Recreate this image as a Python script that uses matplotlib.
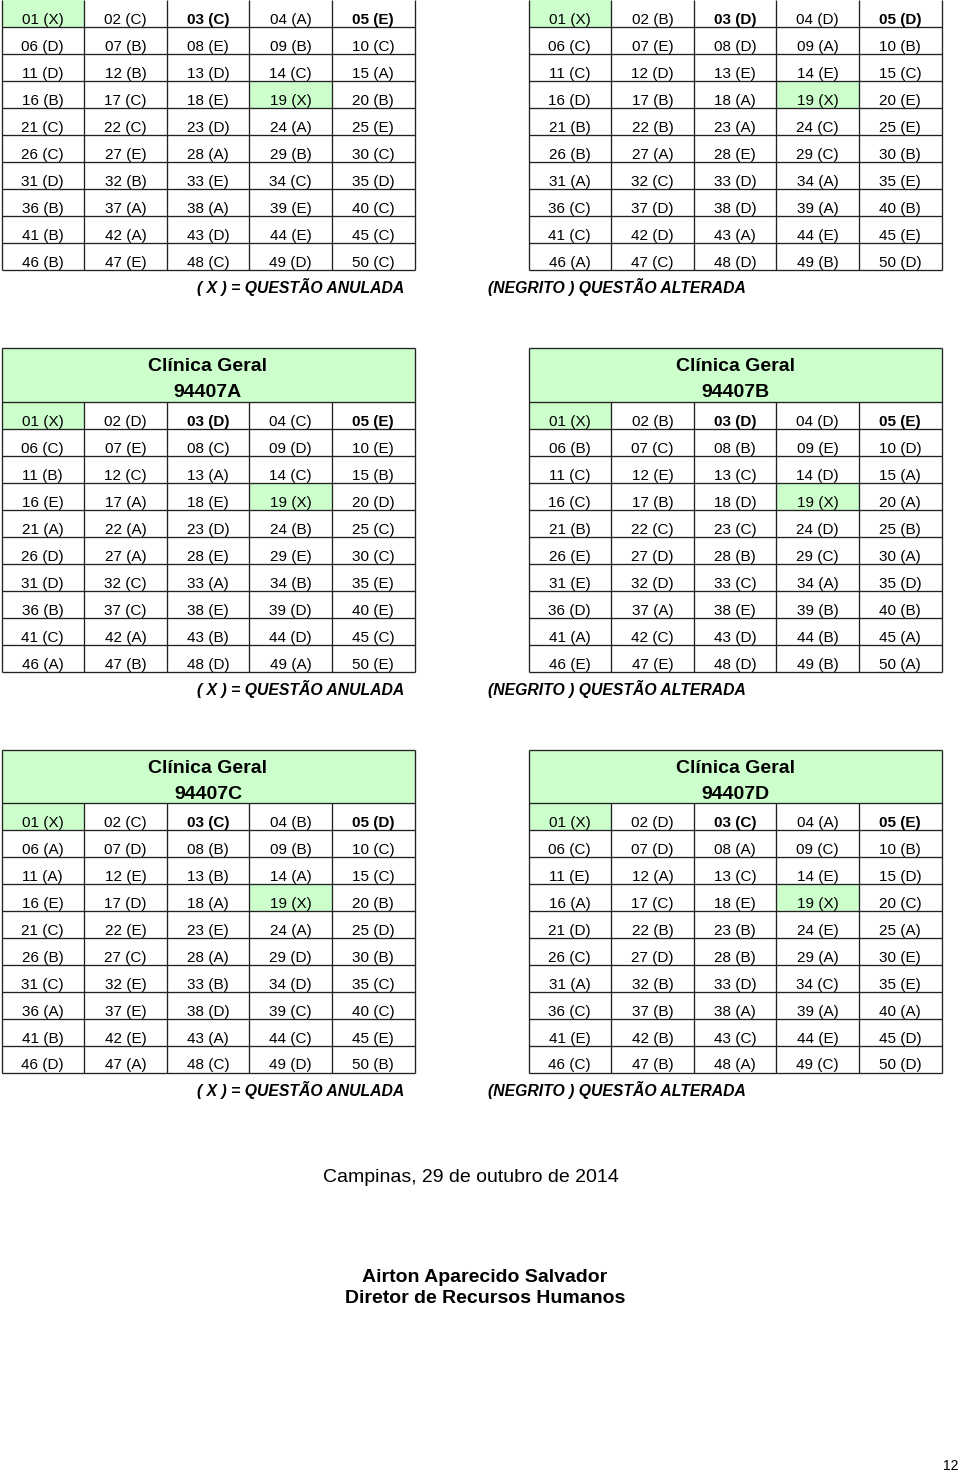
import matplotlib.pyplot as plt
from matplotlib.patches import Rectangle

plt.rcParams['font.family'] = ['Liberation Sans', 'DejaVu Sans']

# gabaritos (50 questoes cada), lidos linha a linha
key_top_left = list("XCCAE" "DBEBC" "DBDCA" "BCEXB" "CCDAE" "CEABC" "DBECD" "BAAEC" "BADEC" "BECDC")
key_top_right = list("XBDDD" "CEDAB" "CDEEC" "DBAXE" "BBACE" "BAECB" "ACDAE" "CDDAB" "CDAEE" "ACDBD")
key_94407A = list("XDDCE" "CECDE" "BCACB" "EAEXD" "AADBC" "DAEEC" "DCABE" "BCEDE" "CABDC" "ABDAE")
key_94407B = list("XBDDE" "BCBED" "CECDA" "CBDXA" "BCCDB" "EDBCA" "EDCAD" "DAEBB" "ACDBA" "EEDBA")
key_94407C = list("XCCBD" "ADBBC" "AEBAC" "EDAXB" "CEEAD" "BCADB" "CEBDC" "AEDCC" "BEACE" "DACDB")
key_94407D = list("XDCAE" "CDACB" "EACED" "ACEXC" "DBBEA" "CDBAE" "ABDCE" "CBAAA" "EBCED" "CBACD")

annulled = [1, 19]     # questoes anuladas (fundo verde)
changed = [3, 5]       # questoes alteradas (negrito)

GREEN = "#CCFFCC"
LINE = "#222222"
NCOL, NROW = 5, 10
COL_W = 82.6
ROW_H = 27.0


def draw_table(ax, x0, y_rows, answers, code=None, header_h=0, side="left", top_line=True):
    w = NCOL * COL_W
    y_top = y_rows - header_h
    if code is not None:
        ax.add_patch(Rectangle((x0, y_top), w, header_h, facecolor=GREEN, edgecolor="none"))
        ax.text(x0 + w / 2, y_top + 23, "Clínica Geral", ha="center", va="baseline",
                fontsize=14, fontweight="bold")
        ax.text(x0 + w / 2, y_top + 49, code, ha="center", va="baseline",
                fontsize=14, fontweight="bold")
    for i, ans in enumerate(answers):
        q = i + 1
        r, c = divmod(i, NCOL)
        cx = x0 + c * COL_W
        cy = y_rows + r * ROW_H
        if q in annulled:
            ax.add_patch(Rectangle((cx, cy), COL_W, ROW_H, facecolor=GREEN, edgecolor="none"))
        ax.text(cx + COL_W / 2, cy + ROW_H - 3.5, f"{q:02d} ({ans})", ha="center",
                va="baseline", fontsize=11,
                fontweight="bold" if q in changed else "normal")
    y_bot = y_rows + NROW * ROW_H
    lw = 0.95
    # linhas horizontais
    ys = [y_rows + r * ROW_H for r in range(1, NROW + 1)]
    if code is not None:
        ys = [y_top, y_rows] + ys
    elif top_line:
        ys = [y_rows] + ys
    ax.hlines(ys, x0, x0 + w, colors=LINE, linewidth=lw)
    # linhas verticais
    ax.vlines([x0, x0 + w], y_top, y_bot, colors=LINE, linewidth=lw)
    ax.vlines([x0 + c * COL_W for c in range(1, NCOL)], y_rows, y_bot, colors=LINE, linewidth=lw)
    if side == "left":
        ax.text(x0 + w - 10, y_bot + 23, "( X ) = QUESTÃO ANULADA", ha="right", va="baseline",
                fontsize=11.3, fontweight="bold", fontstyle="italic")
    else:
        ax.text(x0 - 41, y_bot + 23, "(NEGRITO ) QUESTÃO ALTERADA", ha="left", va="baseline",
                fontsize=11.3, fontweight="bold", fontstyle="italic")


fig = plt.figure(figsize=(9.6, 14.74), dpi=100)
ax = fig.add_axes([0, 0, 1, 1])
ax.set_xlim(0, 960)
ax.set_ylim(1474, 0)
ax.axis("off")

LEFT_X, RIGHT_X = 1.5, 528.5

draw_table(ax, LEFT_X, 0, key_top_left, side="left", top_line=False)
draw_table(ax, RIGHT_X, 0, key_top_right, side="right", top_line=False)
draw_table(ax, LEFT_X, 402, key_94407A, code="94407A", header_h=54, side="left")
draw_table(ax, RIGHT_X, 402, key_94407B, code="94407B", header_h=54, side="right")
draw_table(ax, LEFT_X, 803, key_94407C, code="94407C", header_h=53, side="left")
draw_table(ax, RIGHT_X, 803, key_94407D, code="94407D", header_h=53, side="right")

ax.text(471, 1182, "Campinas, 29 de outubro de 2014", ha="center", va="baseline", fontsize=14)
ax.text(485, 1282, "Airton Aparecido Salvador", ha="center", va="baseline",
        fontsize=14, fontweight="bold")
ax.text(485, 1303, "Diretor de Recursos Humanos", ha="center", va="baseline",
        fontsize=14, fontweight="bold")
ax.text(958, 1470, "12", ha="right", va="baseline", fontsize=10)

fig.savefig("out.png", dpi=100, facecolor="white")
